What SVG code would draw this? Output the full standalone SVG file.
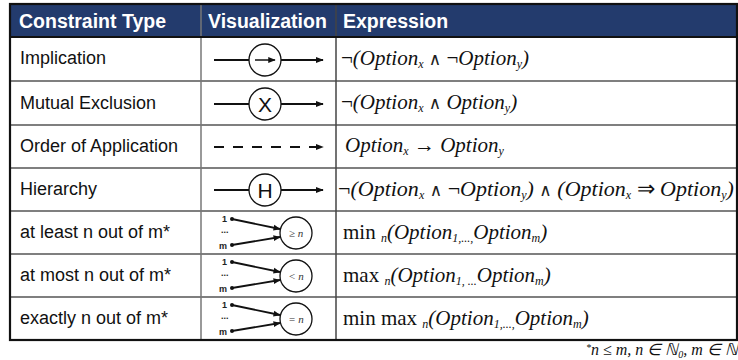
<svg xmlns="http://www.w3.org/2000/svg" width="738" height="360" viewBox="0 0 738 360">
<style>
.hd{font-family:"Liberation Sans",Arial,sans-serif;font-weight:bold;font-size:19.5px;fill:#fff}
.lb{font-family:"Liberation Sans",Arial,sans-serif;font-size:18px;fill:#111}
.ex{font-family:"Liberation Serif","Times New Roman",serif;font-size:21px;fill:#111;font-style:italic}
.up{font-style:normal}
.sb{font-size:12px}
.op{font-family:"DejaVu Serif",serif;font-style:normal;font-size:17px;fill:#222}
.ln{stroke:#111;stroke-width:2;fill:none}
.cc{stroke:#111;stroke-width:1.3;fill:#fff}
.ct{font-family:"Liberation Sans",Arial,sans-serif;font-size:21px;fill:#111;text-anchor:middle}
.sm{font-family:"Liberation Sans",Arial,sans-serif;font-size:9px;font-weight:bold;fill:#222}
.it{font-family:"Liberation Serif","Times New Roman",serif;font-size:11px;font-style:italic;fill:#333;text-anchor:middle}
.grid{stroke:#555;stroke-width:1.5}
</style>
<defs>
<marker id="ah" viewBox="0 0 10 10" refX="9" refY="5" markerWidth="4" markerHeight="4" orient="auto" markerUnits="strokeWidth">
<path d="M0,1 L10,5 L0,9 z" fill="#111"/>
</marker>
<marker id="ahs" viewBox="0 0 10 10" refX="9" refY="5" markerWidth="5" markerHeight="5" orient="auto" markerUnits="strokeWidth">
<path d="M0,1 L10,5 L0,9 z" fill="#111"/>
</marker>
</defs>
<rect x="0" y="0" width="738" height="360" fill="#fff"/>
<g id="table">
<rect x="10" y="4" width="727" height="33" fill="#233B6D"/>
<line class="grid" x1="10" y1="81" x2="737" y2="81"/>
<line class="grid" x1="10" y1="125" x2="737" y2="125"/>
<line class="grid" x1="10" y1="168" x2="737" y2="168"/>
<line class="grid" x1="10" y1="211" x2="737" y2="211"/>
<line class="grid" x1="10" y1="254" x2="737" y2="254"/>
<line class="grid" x1="10" y1="297" x2="737" y2="297"/>
<line stroke="#777" stroke-width="1.5" x1="201" y1="4" x2="201" y2="340"/>
<line stroke="#444" stroke-width="1.5" x1="336" y1="4" x2="336" y2="340"/>
<line stroke="#111" stroke-width="2" x1="10" y1="37" x2="737" y2="37"/>
<rect x="10" y="4" width="727" height="336" fill="none" stroke="#111" stroke-width="2.2"/>
</g>
<g id="header">
<text class="hd" x="19" y="28">Constraint Type</text>
<text class="hd" x="208" y="28">Visualization</text>
<text class="hd" x="343" y="28">Expression</text>
</g>
<g id="row-implication">
<text class="lb" x="20" y="64">Implication</text>
<line class="ln" x1="214" y1="60" x2="249" y2="60"/>
<circle class="cc" cx="265" cy="60" r="16"/>
<line class="ln" x1="281" y1="60" x2="323" y2="60" marker-end="url(#ah)"/>
<line stroke="#111" stroke-width="1.5" x1="255" y1="60" x2="275" y2="60" marker-end="url(#ahs)"/>
<text class="ex" x="341" y="65"><tspan class="up">¬</tspan>(Option<tspan class="sb" dy="3">x</tspan><tspan dy="-3"> <tspan class="op">∧</tspan> <tspan class="up">¬</tspan>Option</tspan><tspan class="sb" dy="3">y</tspan><tspan dy="-3">)</tspan></text>
</g>
<g id="row-mutual-exclusion">
<text class="lb" x="20" y="109">Mutual Exclusion</text>
<line class="ln" x1="214" y1="104" x2="249" y2="104"/>
<circle class="cc" cx="265" cy="104" r="16"/>
<text class="ct" x="265" y="111.5">X</text>
<line class="ln" x1="281" y1="104" x2="323" y2="104" marker-end="url(#ah)"/>
<text class="ex" x="341" y="109"><tspan class="up">¬</tspan>(Option<tspan class="sb" dy="3">x</tspan><tspan dy="-3"> <tspan class="op">∧</tspan> Option</tspan><tspan class="sb" dy="3">y</tspan><tspan dy="-3">)</tspan></text>
</g>
<g id="row-order">
<text class="lb" x="20" y="152">Order of Application</text>
<line class="ln" x1="214" y1="147" x2="323" y2="147" stroke-dasharray="10 9" marker-end="url(#ah)"/>
<text class="ex" x="345" y="152">Option<tspan class="sb" dy="3">x</tspan><tspan dy="-3"> <tspan class="up">→</tspan> Option</tspan><tspan class="sb" dy="3">y</tspan></text>
</g>
<g id="row-hierarchy">
<text class="lb" x="20" y="195">Hierarchy</text>
<line class="ln" x1="214" y1="190" x2="249" y2="190"/>
<circle class="cc" cx="265" cy="190" r="16"/>
<text class="ct" x="265" y="197.5">H</text>
<line class="ln" x1="281" y1="190" x2="323" y2="190" marker-end="url(#ah)"/>
<text class="ex" x="338" y="196" style="font-size:22px"><tspan class="up">¬</tspan>(Option<tspan class="sb" dy="3">x</tspan><tspan dy="-3"> <tspan class="op">∧</tspan> <tspan class="up">¬</tspan>Option</tspan><tspan class="sb" dy="3">y</tspan><tspan dy="-3">) <tspan class="op">∧</tspan> (Option</tspan><tspan class="sb" dy="3">x</tspan><tspan dy="-3"> <tspan class="up">⇒</tspan> Option</tspan><tspan class="sb" dy="3">y</tspan><tspan dy="-3">)</tspan></text>
</g>
<g id="row-at-least">
<text class="lb" x="20" y="238">at least n out of m*</text>
<text class="sm" x="222" y="222">1</text>
<text class="sm" x="221" y="233">...</text>
<text class="sm" x="219" y="249">m</text>
<circle cx="232" cy="219" r="2" fill="#111"/>
<circle cx="232" cy="245" r="2" fill="#111"/>
<line stroke="#111" stroke-width="1.8" x1="232" y1="219" x2="280" y2="229" marker-end="url(#ah)"/>
<line stroke="#111" stroke-width="1.8" x1="232" y1="245" x2="280" y2="237" marker-end="url(#ah)"/>
<circle class="cc" cx="296" cy="233" r="16"/>
<text class="it" x="296" y="237">≥ n</text>
<text class="ex" x="343" y="239"><tspan class="up">min</tspan> <tspan class="sb" dy="3">n</tspan><tspan dy="-3">(Option</tspan><tspan class="sb" dy="3">1,...,</tspan><tspan dy="-3">Option</tspan><tspan class="sb" dy="3">m</tspan><tspan dy="-3">)</tspan></text>
</g>
<g id="row-at-most">
<text class="lb" x="20" y="281">at most n out of m*</text>
<text class="sm" x="222" y="265">1</text>
<text class="sm" x="221" y="276">...</text>
<text class="sm" x="219" y="292">m</text>
<circle cx="232" cy="262" r="2" fill="#111"/>
<circle cx="232" cy="288" r="2" fill="#111"/>
<line stroke="#111" stroke-width="1.8" x1="232" y1="262" x2="280" y2="272" marker-end="url(#ah)"/>
<line stroke="#111" stroke-width="1.8" x1="232" y1="288" x2="280" y2="280" marker-end="url(#ah)"/>
<circle class="cc" cx="296" cy="276" r="16"/>
<text class="it" x="296" y="280">&lt; n</text>
<text class="ex" x="343" y="282"><tspan class="up">max</tspan> <tspan class="sb" dy="3">n</tspan><tspan dy="-3">(Option</tspan><tspan class="sb" dy="3">1, ...</tspan><tspan dy="-3">Option</tspan><tspan class="sb" dy="3">m</tspan><tspan dy="-3">)</tspan></text>
</g>
<g id="row-exactly">
<text class="lb" x="20" y="324">exactly n out of m*</text>
<text class="sm" x="222" y="308">1</text>
<text class="sm" x="221" y="319">...</text>
<text class="sm" x="219" y="335">m</text>
<circle cx="232" cy="305" r="2" fill="#111"/>
<circle cx="232" cy="331" r="2" fill="#111"/>
<line stroke="#111" stroke-width="1.8" x1="232" y1="305" x2="280" y2="315" marker-end="url(#ah)"/>
<line stroke="#111" stroke-width="1.8" x1="232" y1="331" x2="280" y2="323" marker-end="url(#ah)"/>
<circle class="cc" cx="296" cy="319" r="16"/>
<text class="it" x="296" y="323">= n</text>
<text class="ex" x="343" y="325"><tspan class="up">min max</tspan> <tspan class="sb" dy="3">n</tspan><tspan dy="-3">(Option</tspan><tspan class="sb" dy="3">1,...,</tspan><tspan dy="-3">Option</tspan><tspan class="sb" dy="3">m</tspan><tspan dy="-3">)</tspan></text>
</g>
<g id="footnote">
<text class="ex" style="font-size:16px" x="586" y="355"><tspan style="font-size:10px" dy="-4">*</tspan><tspan dy="4">n ≤ m, n ∈ ℕ</tspan><tspan style="font-size:10px" dy="3">0</tspan><tspan dy="-3">, m ∈ ℕ</tspan></text>
</g>
</svg>
